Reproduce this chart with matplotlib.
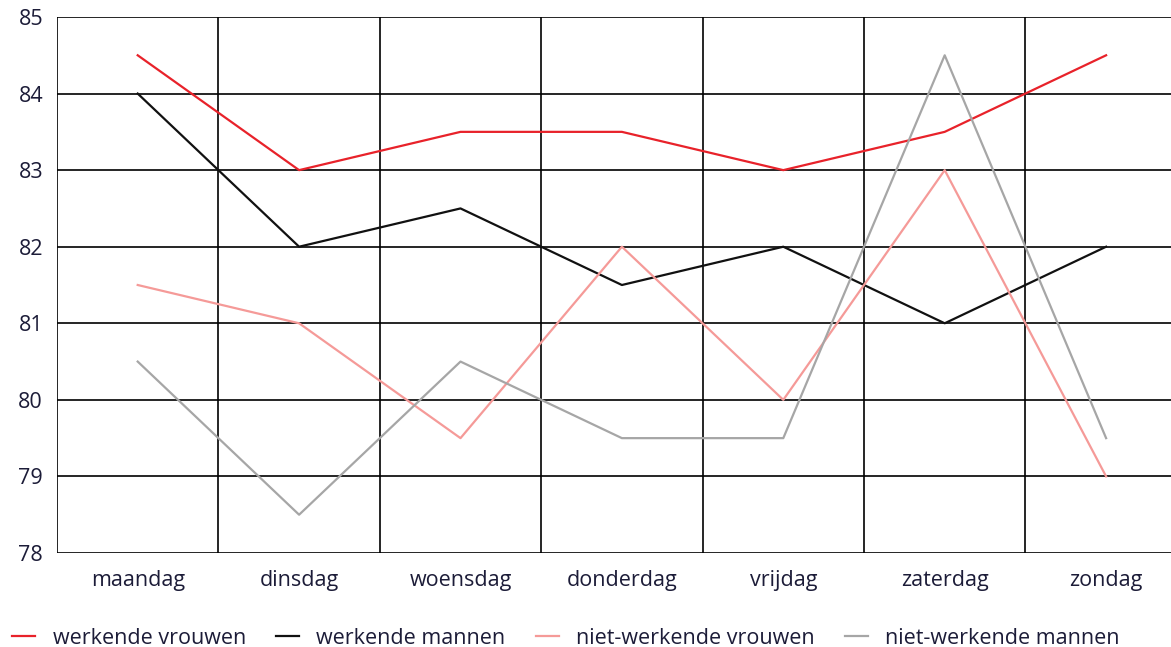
import matplotlib.pyplot as plt
import numpy as np

plt.rcParams['font.family'] = ['Open Sans', 'DejaVu Sans']

dagen = ['maandag', 'dinsdag', 'woensdag', 'donderdag', 'vrijdag', 'zaterdag', 'zondag']
werkende_vrouwen = [84.5, 83, 83.5, 83.5, 83, 83.5, 84.5]
werkende_mannen = [84, 82, 82.5, 81.5, 82, 81, 82]
nietwerkende_vrouwen = [81.5, 81, 79.5, 82, 80, 83, 79]
nietwerkende_mannen = [80.5, 78.5, 80.5, 79.5, 79.5, 84.5, 79.5]
yticks = [78, 79, 80, 81, 82, 83, 84, 85]

tekst = '#1c1c38'

fig = plt.figure(figsize=(11.71, 6.47), dpi=100)
ax = fig.add_axes([57/1171, 1-553/647, 1-57/1171, (553-17)/647])

x = np.arange(len(dagen))
ax.plot(x, werkende_vrouwen, color='#e8222a', lw=1.6, label='werkende vrouwen')
ax.plot(x, werkende_mannen, color='#111111', lw=1.6, label='werkende mannen')
ax.plot(x, nietwerkende_vrouwen, color='#f59a98', lw=1.6, label='niet-werkende vrouwen')
ax.plot(x, nietwerkende_mannen, color='#a6a6a6', lw=1.6, label='niet-werkende mannen')

# rasterlijnen
for y in yticks:
    ax.axhline(y, color='black', lw=1.2, zorder=0)
for xv in np.arange(len(dagen) + 1) - 0.5:
    ax.axvline(xv, color='black', lw=1.2, zorder=0)

ax.set_xlim(-0.5, -0.5 + (1171-57)/161.4)
ax.set_ylim(78, 85)
ax.set_yticks(yticks)
ax.set_xticks(x)
ax.set_xticklabels(dagen)
ax.tick_params(length=0, labelsize=15.5, colors=tekst, pad=12)
ax.tick_params(axis='y', pad=10)
for s in ax.spines.values():
    s.set_visible(False)

fig.legend(loc='lower left', bbox_to_anchor=(-0.006, -0.033), ncol=4, frameon=False,
           fontsize=15.5, handlelength=1.07, handletextpad=0.8, columnspacing=1.4,
           labelcolor=tekst)

plt.savefig('out.png', dpi=100)
